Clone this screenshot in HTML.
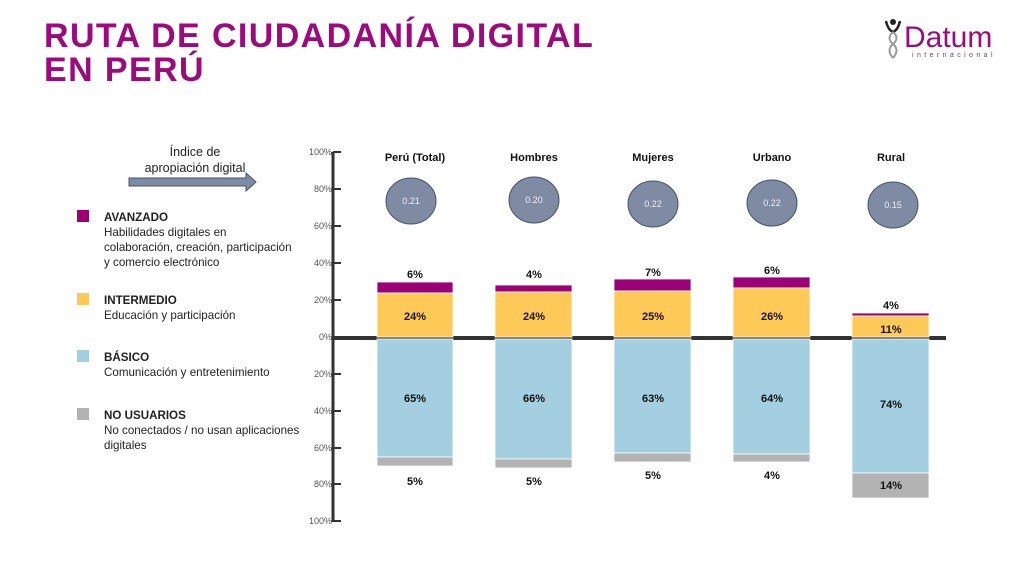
<!DOCTYPE html>
<html><head><meta charset="utf-8"><style>
body{margin:0;width:1015px;height:567px;background:#fff;overflow:hidden;font-family:"Liberation Sans",sans-serif;position:relative}
.t{position:absolute;color:#9c0a7d;font-weight:bold;font-size:34px;line-height:34px;left:44px;top:19px;letter-spacing:1.4px}
.lg{position:absolute;left:80px;font-size:11.6px;color:#222;line-height:15px}
.lg b{display:block;font-size:11.6px}
.sq{position:absolute;left:-2px;top:0;width:12px;height:12px}
</style></head><body>
<div class="t">RUTA DE CIUDADANÍA DIGITAL<br>EN PERÚ</div>
<svg style="position:absolute;left:882px;top:18px" width="22" height="44">
<circle cx="11" cy="4" r="3" fill="#222"/>
<path d="M4 3 Q6 12 11 14 Q16 12 18 3" stroke="#222" stroke-width="2.5" fill="none"/>
<path d="M11 14 Q4 20 11 26 Q18 32 11 40 M11 14 Q18 20 11 26 Q4 32 11 40" stroke="#999" stroke-width="2" fill="none"/>
</svg>
<div style="position:absolute;left:904px;top:22px;font-size:30px;color:#9c0a7d;line-height:32px">Datum</div>
<div style="position:absolute;left:912px;top:52px;font-size:7px;color:#555;letter-spacing:3.4px">internacional</div>
<div style="position:absolute;left:130px;top:144px;width:130px;text-align:center;font-size:12.5px;line-height:16px;color:#222">Índice de<br>apropiación digital</div>
<svg style="position:absolute;left:0;top:0" width="1015" height="567">
<polygon points="129,178 246,178 246,173 256,182 246,191 246,186 129,186" fill="#7f8aa3" stroke="#44546a"/>
<g font-family="Liberation Sans" font-size="9" fill="#555" text-anchor="end">
<text x="332" y="155">100%</text><text x="332" y="192">80%</text><text x="332" y="229">60%</text><text x="332" y="266">40%</text><text x="332" y="303">20%</text><text x="332" y="340">0%</text><text x="332" y="377">20%</text><text x="332" y="414">40%</text><text x="332" y="451">60%</text><text x="332" y="487">80%</text><text x="332" y="524">100%</text>
</g>
<g stroke="#333" stroke-width="2">
<line x1="333" y1="152" x2="333" y2="522" stroke-width="3"/>
<line x1="333" y1="152" x2="341" y2="152"/><line x1="333" y1="189" x2="341" y2="189"/><line x1="333" y1="226" x2="341" y2="226"/><line x1="333" y1="263" x2="341" y2="263"/><line x1="333" y1="300" x2="341" y2="300"/><line x1="333" y1="374" x2="341" y2="374"/><line x1="333" y1="411" x2="341" y2="411"/><line x1="333" y1="448" x2="341" y2="448"/><line x1="333" y1="484" x2="341" y2="484"/><line x1="333" y1="521" x2="341" y2="521"/>
</g>
<line x1="333" y1="338" x2="946" y2="338" stroke="#333" stroke-width="4"/>
<g stroke="#fff" stroke-width="0.8">
<rect x="377" y="282" width="76" height="11" fill="#9b0077"/><rect x="377" y="293" width="76" height="44" fill="#ffc957"/><rect x="377" y="339" width="76" height="118" fill="#a3cfe0"/><rect x="377" y="457" width="76" height="9" fill="#b3b3b3"/>
<rect x="495" y="285" width="77" height="7" fill="#9b0077"/><rect x="495" y="292" width="77" height="45" fill="#ffc957"/><rect x="495" y="339" width="77" height="120" fill="#a3cfe0"/><rect x="495" y="459" width="77" height="9" fill="#b3b3b3"/>
<rect x="614" y="279" width="77" height="12" fill="#9b0077"/><rect x="614" y="291" width="77" height="46" fill="#ffc957"/><rect x="614" y="339" width="77" height="114" fill="#a3cfe0"/><rect x="614" y="453" width="77" height="9" fill="#b3b3b3"/>
<rect x="733" y="277" width="77" height="11" fill="#9b0077"/><rect x="733" y="288" width="77" height="49" fill="#ffc957"/><rect x="733" y="339" width="77" height="115" fill="#a3cfe0"/><rect x="733" y="454" width="77" height="8" fill="#b3b3b3"/>
<rect x="852" y="313" width="77" height="3" fill="#9b0077"/><rect x="852" y="316" width="77" height="21" fill="#ffc957"/><rect x="852" y="339" width="77" height="134" fill="#a3cfe0"/><rect x="852" y="473" width="77" height="25" fill="#b3b3b3"/>
</g>
<g font-family="Liberation Sans" font-size="11" font-weight="bold" fill="#111" text-anchor="middle">
<text x="415" y="161">Perú (Total)</text><text x="534" y="161">Hombres</text><text x="653" y="161">Mujeres</text><text x="772" y="161">Urbano</text><text x="891" y="161">Rural</text>
<text x="415" y="278">6%</text><text x="415" y="320">24%</text><text x="415" y="402">65%</text><text x="415" y="485">5%</text>
<text x="534" y="278">4%</text><text x="534" y="320">24%</text><text x="534" y="402">66%</text><text x="534" y="485">5%</text>
<text x="653" y="276">7%</text><text x="653" y="320">25%</text><text x="653" y="402">63%</text><text x="653" y="479">5%</text>
<text x="772" y="274">6%</text><text x="772" y="320">26%</text><text x="772" y="402">64%</text><text x="772" y="479">4%</text>
<text x="891" y="309">4%</text><text x="891" y="333">11%</text><text x="891" y="408">74%</text><text x="891" y="489">14%</text>
</g>
<g fill="#7f8aa3" stroke="#44546a" stroke-width="1">
<ellipse cx="411" cy="201" rx="25" ry="23"/><ellipse cx="534" cy="200" rx="25" ry="23"/><ellipse cx="653" cy="204" rx="25" ry="23"/><ellipse cx="772" cy="203" rx="25" ry="23"/><ellipse cx="893" cy="205" rx="25" ry="23"/>
</g>
<g font-family="Liberation Sans" font-size="9" fill="#eef" text-anchor="middle">
<text x="411" y="204">0.21</text><text x="534" y="203">0.20</text><text x="653" y="207">0.22</text><text x="772" y="206">0.22</text><text x="893" y="208">0.15</text>
</g>
</svg>
<div class="lg" style="top:210px"><div class="sq" style="background:#9b0077;left:-3px"></div><div style="margin-left:24px"><b>AVANZADO</b>Habilidades digitales en<br>colaboración, creación, participación<br>y comercio electrónico</div></div>
<div class="lg" style="top:293px"><div class="sq" style="background:#ffc957;left:-3px"></div><div style="margin-left:24px"><b>INTERMEDIO</b>Educación y participación</div></div>
<div class="lg" style="top:350px"><div class="sq" style="background:#a3cfe0;left:-3px"></div><div style="margin-left:24px"><b>BÁSICO</b>Comunicación y entretenimiento</div></div>
<div class="lg" style="top:408px"><div class="sq" style="background:#b3b3b3;left:-3px"></div><div style="margin-left:24px"><b>NO USUARIOS</b>No conectados / no usan aplicaciones<br>digitales</div></div>
</body></html>
